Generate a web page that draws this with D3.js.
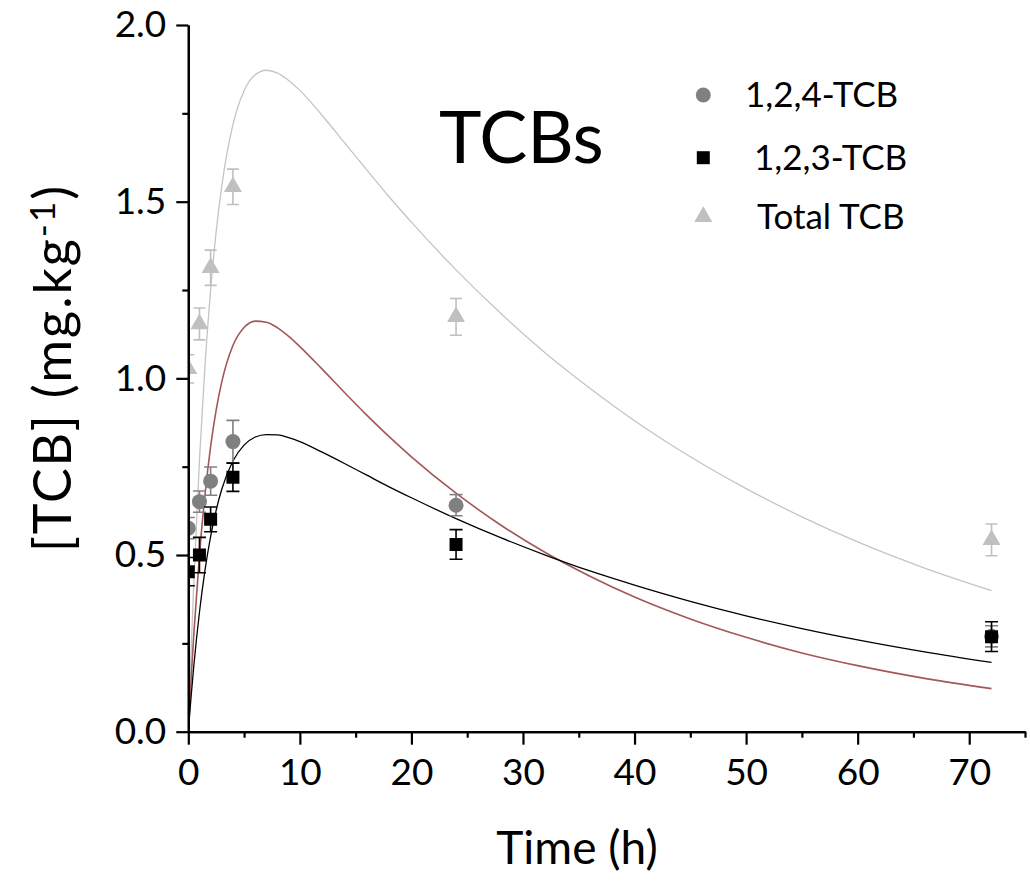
<!DOCTYPE html>
<html>
<head>
<meta charset="utf-8">
<script src="https://cdn.jsdelivr.net/npm/d3@7"></script>
<style>
  html, body { margin: 0; padding: 0; background: #fff; }
  svg text { font-family: Lato, "Open Sans", sans-serif; fill: #000; }
</style>
</head>
<body>
<svg id="chart" width="1030" height="882"></svg>
<script>
// Measured concentrations (mg/kg) at each sampling time (h)
const sampleTimes = [0, 1, 2, 4, 24, 72];
const tcb124    = [0.576, 0.651, 0.709, 0.821, 0.641, 0.270];
const tcb124Err = [0.030, 0.030, 0.040, 0.060, 0.030, 0.030];
const tcb123    = [0.453, 0.500, 0.601, 0.720, 0.530, 0.269];
const tcb123Err = [0.040, 0.050, 0.035, 0.040, 0.042, 0.042];
const tcbTotal    = [1.027, 1.154, 1.313, 1.542, 1.174, 0.543];
const tcbTotalErr = [0.040, 0.045, 0.050, 0.050, 0.052, 0.045];

// Fitted model curves, sampled along the time axis
const fitTimes = [0, 0.25, 0.5, 1, 1.5, 2, 2.5, 3, 4, 5, 6, 7, 8, 9, 10, 12, 14, 16, 18, 20,
                  24, 28, 32, 36, 40, 45, 50, 55, 60, 66, 72];
const fitTotal = [0, 0.226, 0.428, 0.769, 1.038, 1.250, 1.416, 1.544, 1.718, 1.814, 1.859, 1.872,
                  1.864, 1.843, 1.815, 1.744, 1.667, 1.590, 1.514, 1.442, 1.307, 1.184, 1.072,
                  0.972, 0.880, 0.778, 0.688, 0.608, 0.537, 0.463, 0.399];
const fit124 = [0, 0.148, 0.279, 0.500, 0.672, 0.807, 0.911, 0.990, 1.093, 1.144, 1.162, 1.159,
                1.143, 1.119, 1.090, 1.026, 0.960, 0.896, 0.835, 0.778, 0.675, 0.585, 0.507,
                0.440, 0.381, 0.319, 0.267, 0.223, 0.187, 0.151, 0.122];
const fit123 = [0, 0.099, 0.188, 0.338, 0.458, 0.552, 0.627, 0.686, 0.766, 0.811, 0.834, 0.841,
                0.840, 0.832, 0.821, 0.791, 0.759, 0.726, 0.693, 0.662, 0.603, 0.549, 0.500,
                0.455, 0.415, 0.369, 0.328, 0.292, 0.260, 0.226, 0.196];

// Axis ticks
const xMajor = [0, 10, 20, 30, 40, 50, 60, 70];
const xMinor = [5, 15, 25, 35, 45, 55, 65, 75];
const yMajor = [0, 0.5, 1.0, 1.5, 2.0];
const yMinor = [0.25, 0.75, 1.25, 1.75];

const legendLabels = ["1,2,4-TCB", "1,2,3-TCB", "Total TCB"];

const svg = d3.select("#chart");
const x = d3.scaleLinear().domain([0, 75]).range([188.3, 1025]);
const y = d3.scaleLinear().domain([0, 2]).range([731.7, 25]);

const colCircle = "#808080", colSquare = "#000000", colTri = "#c0c0c0";

// Clip marks to the plotting area
svg.append("defs").append("clipPath").attr("id", "plotClip")
  .append("rect")
  .attr("x", x(0)).attr("y", 0)
  .attr("width", x(75) - x(0) + 2).attr("height", y(0));

const plot = svg.append("g").attr("clip-path", "url(#plotClip)");

// Model curves
const line = d3.line().x(d => x(d[0])).y(d => y(d[1])).curve(d3.curveMonotoneX);
[[fitTotal, "#c4c4c4", 1.3], [fit124, "#a35757", 1.6], [fit123, "#000", 1.3]].forEach(([vals, col, w]) => {
  plot.append("path")
    .datum(fitTimes.map((t, i) => [t, vals[i]]))
    .attr("fill", "none").attr("stroke", col).attr("stroke-width", w)
    .attr("d", line);
});

// Error bars + markers
function errorBars(vals, errs, col, cap) {
  const g = plot.append("g").attr("stroke", col).attr("stroke-width", 1.6).attr("fill", "none");
  sampleTimes.forEach((t, i) => {
    const cx = x(t), y1 = y(vals[i] + errs[i]), y0 = y(vals[i] - errs[i]);
    g.append("line").attr("x1", cx).attr("x2", cx).attr("y1", y1).attr("y2", y0);
    g.append("line").attr("x1", cx - cap / 2).attr("x2", cx + cap / 2).attr("y1", y1).attr("y2", y1);
    g.append("line").attr("x1", cx - cap / 2).attr("x2", cx + cap / 2).attr("y1", y0).attr("y2", y0);
  });
}
const symCircle = d3.symbol().type(d3.symbolCircle).size(Math.PI * 7.5 * 7.5);
const symSquare = d3.symbol().type(d3.symbolSquare).size(13 * 13);
const symTri = d3.symbol().type(d3.symbolTriangle).size(18 * 18 * Math.sqrt(3) / 4);

function markers(vals, sym, col) {
  plot.append("g").selectAll("path").data(vals).join("path")
    .attr("transform", (d, i) => `translate(${x(sampleTimes[i])},${y(d)})`)
    .attr("d", sym).attr("fill", col);
}

errorBars(tcbTotal, tcbTotalErr, colTri, 12);
markers(tcbTotal, symTri, colTri);
errorBars(tcb124, tcb124Err, colCircle, 13);
markers(tcb124, symCircle, colCircle);
errorBars(tcb123, tcb123Err, colSquare, 13);
markers(tcb123, symSquare, colSquare);

// Axes
function styleAxis(g) {
  g.selectAll("path.domain").attr("stroke", "#000").attr("stroke-width", 2.2);
  g.selectAll(".tick line").attr("stroke", "#000").attr("stroke-width", 2.2);
  g.selectAll(".tick text").style("font-size", "37px").attr("fill", "#000");
}
svg.append("g").attr("transform", `translate(0,${y(0)})`)
  .call(d3.axisBottom(x).tickValues(xMinor).tickSize(6).tickSizeOuter(0).tickFormat(""))
  .call(styleAxis);
svg.append("g").attr("transform", `translate(0,${y(0)})`)
  .call(d3.axisBottom(x).tickValues(xMajor).tickSize(13).tickSizeOuter(0).tickPadding(14).tickFormat(d3.format("d")))
  .call(styleAxis);
svg.append("g").attr("transform", `translate(${x(0)},0)`)
  .call(d3.axisLeft(y).tickValues(yMinor).tickSize(6).tickSizeOuter(0).tickFormat(""))
  .call(styleAxis);
svg.append("g").attr("transform", `translate(${x(0)},0)`)
  .call(d3.axisLeft(y).tickValues(yMajor).tickSize(12).tickSizeOuter(0).tickPadding(10).tickFormat(d3.format(".1f")))
  .call(styleAxis);

// Axis titles
svg.append("text")
  .attr("x", 577).attr("y", 864)
  .attr("text-anchor", "middle")
  .style("font-size", "46px")
  .text("Time (h)");

const yTitle = svg.append("text")
  .attr("transform", "translate(71,368) rotate(-90)")
  .attr("text-anchor", "middle")
  .style("font-size", "52px")
  .style("letter-spacing", "2px");
yTitle.append("tspan").text("[TCB] (mg.kg");
yTitle.append("tspan").attr("dy", "-0.45em").style("font-size", "35px").text("-1");
yTitle.append("tspan").attr("dy", "0.3em").text(")");

// Panel title
svg.append("text")
  .attr("x", 439).attr("y", 163)
  .style("font-size", "72px")
  .text("TCBs");

// Legend
const legendSyms = [[symCircle, colCircle], [symSquare, colSquare], [symTri, colTri]];
const legendY = [95, 157.7, 216.7];
const legendTextX = [745, 754, 757];
legendLabels.forEach((lab, i) => {
  svg.append("path")
    .attr("transform", `translate(703.3,${legendY[i]})`)
    .attr("d", legendSyms[i][0]).attr("fill", legendSyms[i][1]);
  svg.append("text")
    .attr("x", legendTextX[i]).attr("y", legendY[i] + 12)
    .style("font-size", "35px")
    .text(lab);
});
</script>
</body>
</html>
